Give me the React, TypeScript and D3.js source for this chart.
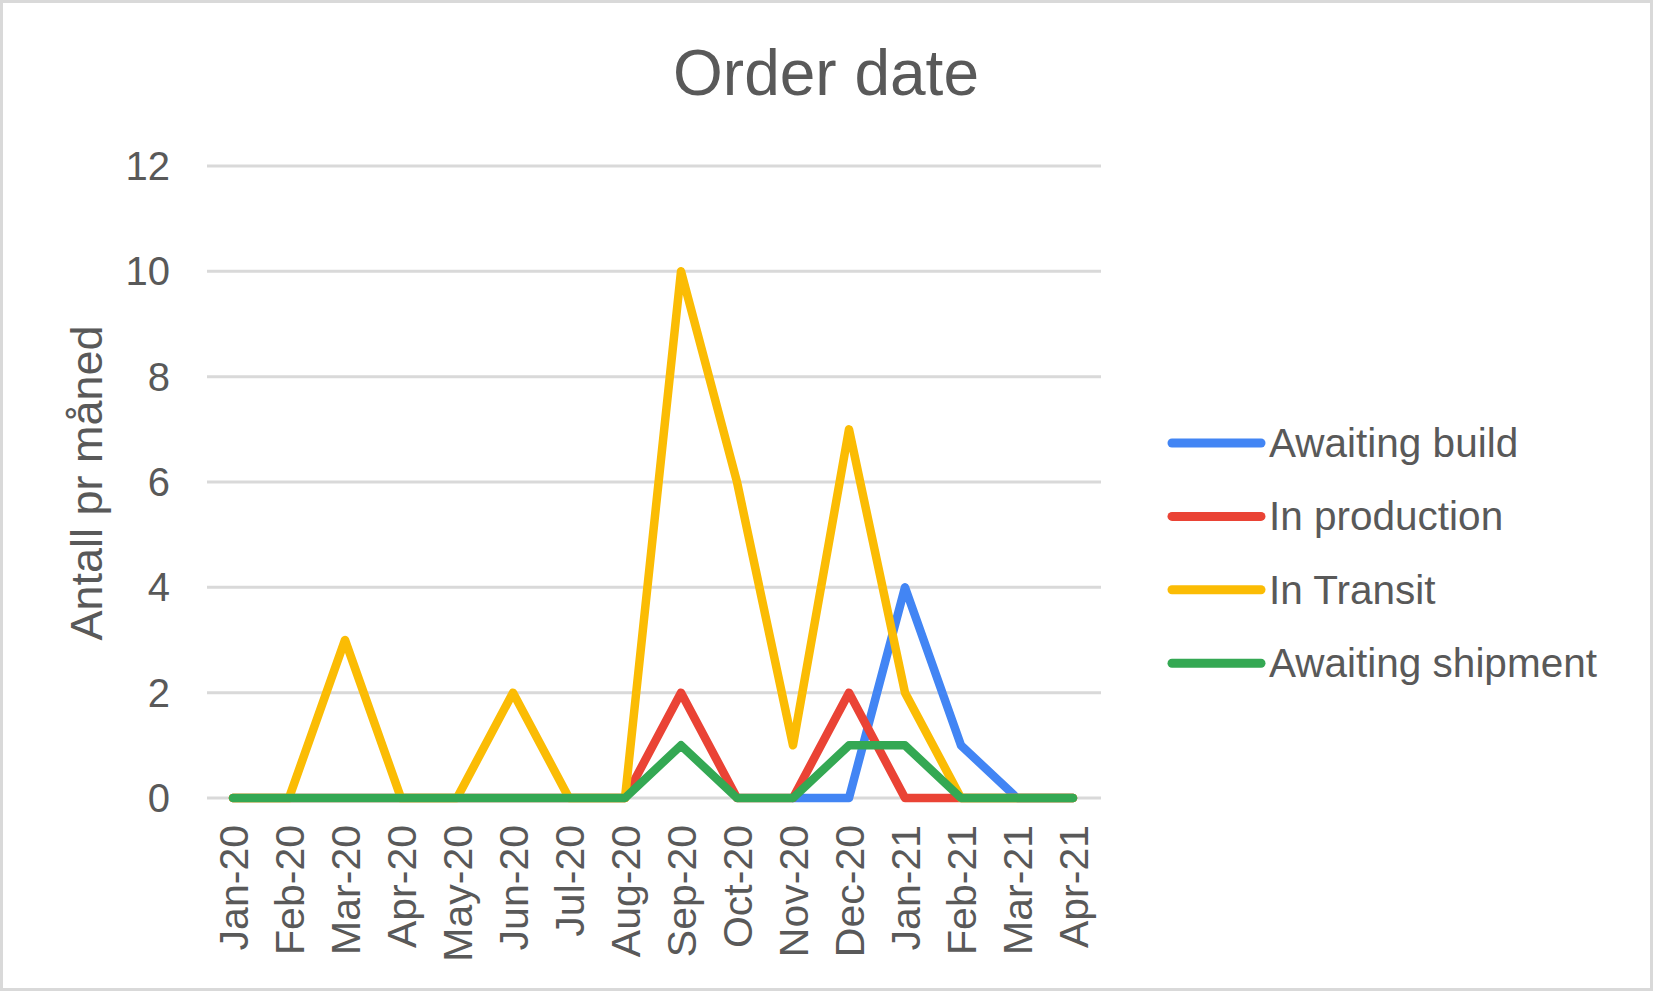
import React from "react";
import * as d3 from "d3";

const months = [
  "Jan-20", "Feb-20", "Mar-20", "Apr-20", "May-20", "Jun-20", "Jul-20", "Aug-20",
  "Sep-20", "Oct-20", "Nov-20", "Dec-20", "Jan-21", "Feb-21", "Mar-21", "Apr-21",
];

// null = no orders registered for that status yet
const awaitingBuild = [null, null, null, null, null, null, null, null, null, null, 0, 0, 4, 1, 0, 0];
const inProduction = [0, 0, 0, 0, 0, 0, 0, 0, 2, 0, 0, 2, 0, 0, 0, 0];
const inTransit = [0, 0, 3, 0, 0, 2, 0, 0, 10, 6, 1, 7, 2, 0, 0, 0];
const awaitingShipment = [0, 0, 0, 0, 0, 0, 0, 0, 1, 0, 0, 1, 1, 0, 0, 0];

const yTicks = [0, 2, 4, 6, 8, 10, 12];

type Series = { name: string; values: (number | null)[]; color: string };

const series: Series[] = [
  { name: "Awaiting build", values: awaitingBuild, color: "#4285F4" },
  { name: "In production", values: inProduction, color: "#EA4335" },
  { name: "In Transit", values: inTransit, color: "#FBBC04" },
  { name: "Awaiting shipment", values: awaitingShipment, color: "#34A853" },
];

const width = 1653;
const height = 992;
const font = "'Liberation Sans', Arial, sans-serif";
const textColor = "#595959";

const App: React.FC = () => {
  const x = d3.scalePoint<string>().domain(months).range([205, 1101]).padding(0.5);
  const y = d3.scaleLinear().domain([0, 12]).range([798, 166]);

  const line = d3
    .line<number | null>()
    .defined((d) => d !== null)
    .x((_, i) => x(months[i]) as number)
    .y((d) => y(d as number));

  return (
    <svg
      width={width}
      height={height}
      style={{ position: "absolute", left: 0, top: 0 }}
      fontFamily={font}
    >
      <rect x={0} y={0} width={width} height={height} fill="#fff" />
      <rect x={1.5} y={1.5} width={width - 3} height={height - 4} fill="none" stroke="#d9d9d9" strokeWidth={3} />

      <text x={826} y={95} textAnchor="middle" fontSize={64} fill={textColor}>
        Order date
      </text>

      {/* gridlines + y ticks */}
      {yTicks.map((t) => (
        <g key={t}>
          <line x1={207} x2={1101} y1={y(t)} y2={y(t)} stroke="#d9d9d9" strokeWidth={3} />
          <text x={170} y={y(t) + 14} textAnchor="end" fontSize={40} fill={textColor}>
            {t}
          </text>
        </g>
      ))}

      <text
        transform="translate(102,483) rotate(-90)"
        textAnchor="middle"
        fontSize={45}
        fill={textColor}
      >
        Antall pr måned
      </text>

      {months.map((m) => (
        <text
          key={m}
          transform={`translate(${(x(m) as number) + 15},825) rotate(-90)`}
          textAnchor="end"
          fontSize={41}
          fill={textColor}
        >
          {m}
        </text>
      ))}

      {series.map((s) => (
        <path
          key={s.name}
          d={line(s.values) || ""}
          fill="none"
          stroke={s.color}
          strokeWidth={8.5}
          strokeLinejoin="round"
          strokeLinecap="round"
        />
      ))}

      {series.map((s, i) => {
        const cy = 443 + i * 73.4;
        return (
          <g key={s.name}>
            <line x1={1172} x2={1261} y1={cy} y2={cy} stroke={s.color} strokeWidth={9} strokeLinecap="round" />
            <text x={1269} y={cy + 14} fontSize={40.5} fill={textColor}>
              {s.name}
            </text>
          </g>
        );
      })}
    </svg>
  );
};

export default App;
